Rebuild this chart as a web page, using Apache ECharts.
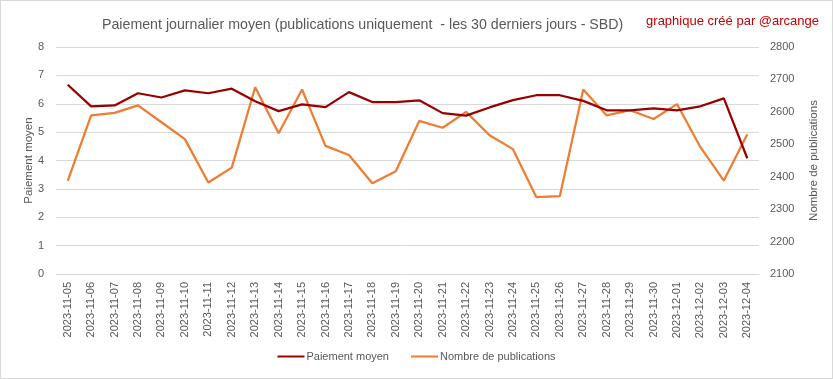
<!DOCTYPE html>
<html>
<head>
<meta charset="utf-8">
<script src="https://cdn.jsdelivr.net/npm/echarts@6/dist/echarts.min.js"></script>
<style>
html,body{margin:0;padding:0;background:#fff;}
#c{width:833px;height:379px;box-sizing:border-box;border:1px solid #d9d9d9;}
</style>
</head>
<body>
<div id="c"></div>
<script>
const categories = ["2023-11-05","2023-11-06","2023-11-07","2023-11-08","2023-11-09","2023-11-10","2023-11-11","2023-11-12","2023-11-13","2023-11-14","2023-11-15","2023-11-16","2023-11-17","2023-11-18","2023-11-19","2023-11-20","2023-11-21","2023-11-22","2023-11-23","2023-11-24","2023-11-25","2023-11-26","2023-11-27","2023-11-28","2023-11-29","2023-11-30","2023-12-01","2023-12-02","2023-12-03","2023-12-04"];
const paiementMoyen = [6.67,5.91,5.94,6.37,6.22,6.47,6.37,6.53,6.09,5.74,5.98,5.88,6.41,6.06,6.06,6.12,5.67,5.58,5.87,6.13,6.30,6.30,6.10,5.77,5.77,5.84,5.77,5.91,6.19,4.08];
const nombrePublications = [2387,2589,2597,2620,2568,2516,2382,2428,2676,2534,2669,2495,2467,2380,2417,2572,2551,2600,2528,2485,2337,2340,2669,2589,2605,2578,2624,2491,2388,2531];
const leftTicks = [0,8,1];
const rightTicks = [2100,2800,100];

const FONT = 'Liberation Sans';
const GRAY = '#595959';
const chart = echarts.init(document.getElementById('c'), null, {renderer:'canvas'});
chart.setOption({
  animation:false,
  backgroundColor:'#fff',
  textStyle:{fontFamily:FONT},
  title:[{
    text:'Paiement journalier moyen (publications uniquement  - les 30 derniers jours - SBD)',
    left:96, top:12,
    textStyle:{fontFamily:FONT,fontSize:14.2,fontWeight:'normal',color:GRAY}
  },{
    text:'graphique créé par @arcange',
    right:8, top:9,
    textStyle:{fontFamily:FONT,fontSize:13,fontWeight:'normal',color:'#c00000'}
  }],
  legend:{
    bottom:11, left:'center',
    itemWidth:27, itemHeight:2, itemGap:22,
    icon:'rect',
    textStyle:{fontFamily:FONT,fontSize:11,color:GRAY,padding:[0,0,0,-3]},
    data:['Paiement moyen','Nombre de publications']
  },
  grid:{left:55,right:73,top:46,bottom:104,containLabel:false},
  xAxis:{
    type:'category', data:categories, boundaryGap:true,
    axisLine:{lineStyle:{color:'#d9d9d9'}},
    axisTick:{show:false},
    axisLabel:{rotate:90,fontFamily:FONT,fontSize:11,color:GRAY,margin:8}
  },
  yAxis:[{
    type:'value', min:leftTicks[0], max:leftTicks[1], interval:leftTicks[2],
    name:'Paiement moyen', nameLocation:'middle', nameGap:21, nameRotate:90, nameMoveOverlap:false,
    nameTextStyle:{fontFamily:FONT,fontSize:11.5,color:GRAY},
    axisLine:{show:false}, axisTick:{show:false},
    axisLabel:{fontFamily:FONT,fontSize:11,color:GRAY,margin:12},
    splitLine:{lineStyle:{color:'#d9d9d9'}}
  },{
    type:'value', min:rightTicks[0], max:rightTicks[1], interval:rightTicks[2],
    name:'Nombre de publications', nameLocation:'middle', nameGap:49, nameRotate:90, nameMoveOverlap:false,
    nameTextStyle:{fontFamily:FONT,fontSize:11.5,color:GRAY},
    axisLine:{show:false}, axisTick:{show:false},
    axisLabel:{fontFamily:FONT,fontSize:11,color:GRAY,margin:11,formatter:v=>String(v)},
    splitLine:{show:false}
  }],
  series:[{
    name:'Paiement moyen', type:'line', data:paiementMoyen, yAxisIndex:0,
    symbol:'none', lineStyle:{color:'#990000',width:2.25}, itemStyle:{color:'#990000'}, z:3
  },{
    name:'Nombre de publications', type:'line', data:nombrePublications, yAxisIndex:1,
    symbol:'none', lineStyle:{color:'#ED7D31',width:2.25}, itemStyle:{color:'#ED7D31'}, z:2
  }]
});
</script>
</body>
</html>
